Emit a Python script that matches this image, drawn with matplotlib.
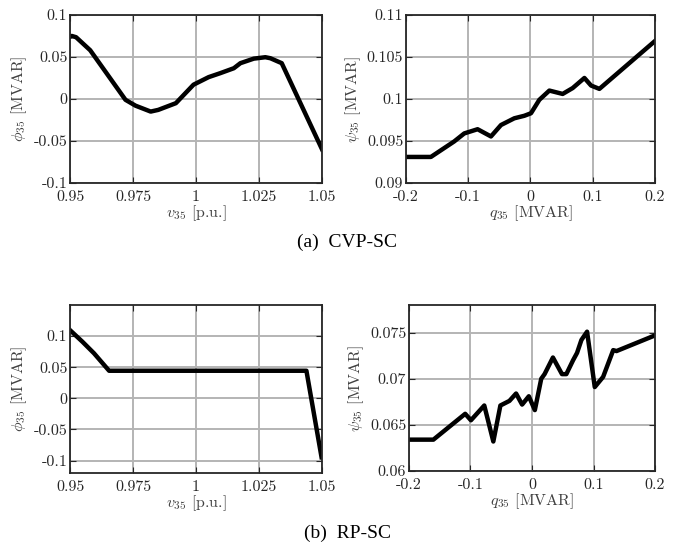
import numpy as np
import matplotlib
matplotlib.use("Agg")
from matplotlib import pyplot as plt

# (a) CVP-SC
v_a = [0.9500, 0.9507, 0.9524, 0.958, 0.972, 0.976, 0.982, 0.985, 0.992, 0.999,
       1.005, 1.0096, 1.015, 1.0176, 1.0229, 1.0275, 1.0295, 1.034, 1.050]
phi_a = [0.074, 0.075, 0.0735, 0.058, -0.001, -0.008, -0.015, -0.013, -0.005, 0.017,
         0.026, 0.0307, 0.0366, 0.0426, 0.048, 0.0497, 0.0485, 0.0426, -0.060]
q_a = [-0.2, -0.16, -0.1225, -0.1064, -0.085, -0.0635, -0.0474, -0.026, -0.0099, 0.0008,
       0.0142, 0.0303, 0.0517, 0.0678, 0.0866, 0.0973, 0.1107, 0.2]
psi_a = [0.0931, 0.0931, 0.09495, 0.0959, 0.0964, 0.09554, 0.0969, 0.0977, 0.0980, 0.0983,
         0.0999, 0.1010, 0.1006, 0.1013, 0.1025, 0.1016, 0.1012, 0.1069]

# (b) RP-SC
v_b = [0.95, 0.9549, 0.9595, 0.9655, 1.0438, 1.0498]
phi_b = [0.1095, 0.091, 0.0724, 0.0443, 0.0443, -0.0947]
q_b = [-0.2, -0.1603, -0.1086, -0.0993, -0.0776, -0.0629, -0.0514, -0.0367, -0.0259, -0.0161,
       -0.0052, 0.0046, 0.015, 0.0204, 0.034, 0.0487, 0.0558, 0.0667, 0.0732, 0.0803,
       0.0895, 0.102, 0.1156, 0.132, 0.1374, 0.2]
psi_b = [0.0634, 0.0634, 0.0662, 0.0655, 0.0671, 0.0632, 0.0671, 0.0676, 0.0684, 0.0672,
         0.0681, 0.0666, 0.0700, 0.0705, 0.0723, 0.0705, 0.0705, 0.0720, 0.0728, 0.0742,
         0.0751, 0.0691, 0.0702, 0.0731, 0.0730, 0.0747]

v_ticks = [0.95, 0.975, 1, 1.025, 1.05]
v_labels = ['0.95', '0.975', '1', '1.025', '1.05']
q_ticks = [-0.2, -0.1, 0, 0.1, 0.2]
q_labels = ['-0.2', '-0.1', '0', '0.1', '0.2']

plt.rcParams['font.family'] = 'cmr10'
plt.rcParams['mathtext.fontset'] = 'cm'
plt.rcParams['axes.unicode_minus'] = False

fig = plt.figure(figsize=(6.76, 5.5), dpi=100)

dark = '#262626'


def style(ax, xt, xl, yt, yl, xlim, ylim, xlabel, ylabel):
    ax.set_xlim(xlim)
    ax.set_ylim(ylim)
    ax.set_xticks(xt)
    ax.set_xticklabels(xl)
    ax.set_yticks(yt)
    ax.set_yticklabels(yl)
    ax.grid(True, color='#b4b4b4', linewidth=1.4)
    ax.set_axisbelow(True)
    for s in ax.spines.values():
        s.set_color(dark)
        s.set_linewidth(1.3)
    ax.tick_params(direction='in', length=4, top=True, right=True,
                   labelsize=11.5, colors=dark, pad=2)
    ax.tick_params(axis='x', pad=5)
    ax.set_xlabel(xlabel, fontsize=11.5, color='#404040', labelpad=0)
    ax.set_ylabel(ylabel, fontsize=11.5, color='#404040', labelpad=3)


ax1 = fig.add_axes([0.1036, 0.6673, 0.3728, 0.3055])
ax1.plot(v_a, phi_a, color='k', linewidth=3.2)
style(ax1, v_ticks, v_labels, [-0.1, -0.05, 0, 0.05, 0.1],
      ['-0.1', '-0.05', '0', '0.05', '0.1'], (0.95, 1.05), (-0.1, 0.1),
      r'$v_{35}$ [p.u.]', r'$\phi_{35}$ [MVAR]')

ax2 = fig.add_axes([0.6006, 0.6673, 0.3683, 0.3055])
ax2.plot(q_a, psi_a, color='k', linewidth=3.2)
style(ax2, q_ticks, q_labels, [0.09, 0.095, 0.1, 0.105, 0.11],
      ['0.09', '0.095', '0.1', '0.105', '0.11'], (-0.2, 0.2), (0.09, 0.11),
      r'$q_{35}$ [MVAR]', r'$\psi_{35}$ [MVAR]')

ax3 = fig.add_axes([0.1036, 0.14, 0.3728, 0.3055])
ax3.plot(v_b, phi_b, color='k', linewidth=3.2)
style(ax3, v_ticks, v_labels, [-0.1, -0.05, 0, 0.05, 0.1],
      ['-0.1', '-0.05', '0', '0.05', '0.1'], (0.95, 1.05), (-0.12, 0.15),
      r'$v_{35}$ [p.u.]', r'$\phi_{35}$ [MVAR]')

ax4 = fig.add_axes([0.605, 0.1436, 0.364, 0.302])
ax4.plot(q_b, psi_b, color='k', linewidth=3.2)
style(ax4, q_ticks, q_labels, [0.06, 0.065, 0.07, 0.075],
      ['0.06', '0.065', '0.07', '0.075'], (-0.2, 0.2), (0.06, 0.078),
      r'$q_{35}$ [MVAR]', r'$\psi_{35}$ [MVAR]')

fig.text(347 / 676, 1 - 242 / 550, '(a)  CVP-SC', ha='center', va='center',
         family='Liberation Serif', fontsize=14)
fig.text(348 / 676, 1 - 533 / 550, '(b)  RP-SC', ha='center', va='center',
         family='Liberation Serif', fontsize=14)

fig.savefig('out.png', dpi=100)
